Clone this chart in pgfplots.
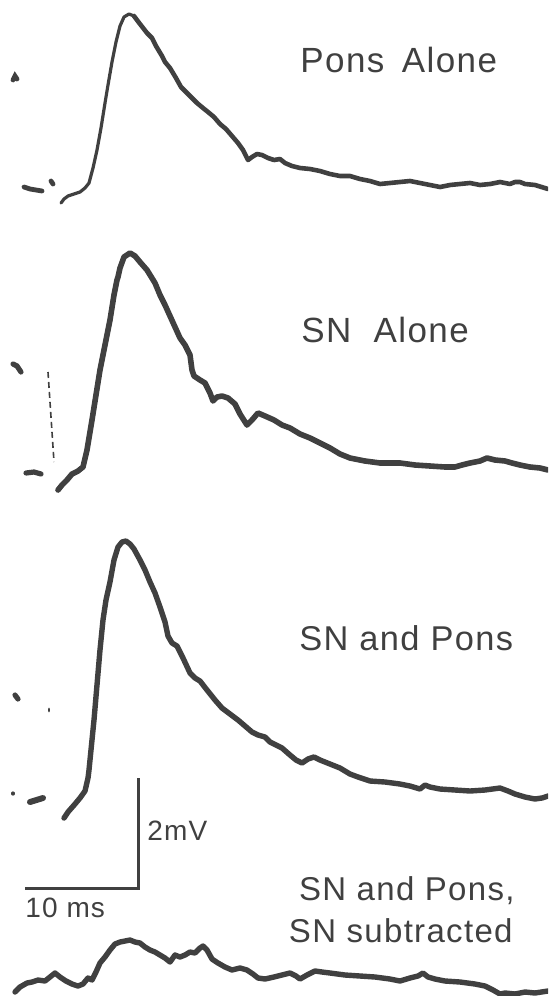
\documentclass[border=0pt]{standalone}
\usepackage{pgfplots}
\pgfplotsset{compat=1.18}
\usepackage{fontspec}
\setmainfont{Liberation Sans}
\newfontfamily\lbl[LetterSpace=4]{Liberation Sans}
\definecolor{ink}{HTML}{404040}
\definecolor{txt}{HTML}{404040}
\begin{document}
\begin{tikzpicture}
\begin{axis}[
  scale only axis, width=274pt, height=498pt,
  xmin=0, xmax=548, ymin=0, ymax=996, y dir=reverse,
  hide axis, clip=true,
]
% Trace 1: Pons Alone
\addplot[ink, line width=1.6pt, line join=round, line cap=round] coordinates {
(61,203)(64,199)(68,196)(74,194)(80,192)(85,188)(89,183)(93,168)(97,150)(101,128)(105,103)(108,85)(112,62)(116,42)(120,26)(124,17)(129,14)(134,16)};
\addplot[ink, line width=2.3pt, line join=round, line cap=round] coordinates {
(134,16)(140,24)(147,33)(152,38)(156,46)(162,56)(165,62)(170,68)(176,78)(181,87)(186,92)(192,98)(197,103)(203,108)(208,112)(214,117)(220,124)(226,129)(232,136)(238,143)(243,150)(248,160)(252,157)(257,154)(262,155)(268,158)(274,160)(280,159)(285,163)(292,166)(300,168)(310,169)(320,171)(330,174)(340,176)(350,176)(360,179)(370,181)(380,184)(390,183)(400,182)(410,181)(420,183)(430,185)(440,187)(450,185)(460,184)(470,183)(480,185)(490,184)(500,182)(510,184)(515,182)(520,182)(525,184)(535,185)(548,189)
};
\addplot[ink, line width=2.4pt, line cap=round] coordinates {(13,80)(15,76)(17,79)};
\addplot[ink, line width=2.4pt, line cap=round] coordinates {(24,187)(30,189)(36,190)(42,191)};
\addplot[ink, line width=2.4pt, line cap=round] coordinates {(51,181)(53,184)};
% Trace 2: SN Alone
\addplot[ink, line width=2.8pt, line join=round, line cap=round] coordinates {
(58,490)(62,485)(67,480)(72,474)(78,471)(83,467)(87,450)(92,420)(96,395)(100,370)(105,345)(110,320)(114,295)(117,280)(118,277)(120,268)(124,257)(130,253)(135,256)(140,262)(147,270)(155,283)(160,295)(165,305)(170,316)(175,327)(180,338)(185,345)(190,355)(192,370)(194,376)(200,380)(205,383)(210,393)(213,401)(217,397)(222,396)(228,398)(235,404)(240,414)(247,425)(252,420)(258,413)(265,416)(274,420)(282,425)(290,428)(300,434)(310,438)(320,443)(330,448)(340,454)(350,458)(365,461)(380,463)(400,463)(415,465)(430,466)(445,467)(455,467)(462,465)(470,463)(480,461)(487,458)(495,460)(505,461)(512,463)(520,465)(530,467)(540,468)(548,470)
};
\addplot[ink, line width=2.6pt, line cap=round] coordinates {(13,364)(17,366)(21,372)};
\addplot[ink, line width=0.8pt, dash pattern=on 3pt off 2pt] coordinates {(48,372)(54,462)};
\addplot[ink, line width=2.6pt, line cap=round] coordinates {(26,473)(34,472)(41,474)};
% Trace 3: SN and Pons
\addplot[ink, line width=2.7pt, line join=round, line cap=round] coordinates {
(64,818)(68,812)(75,804)(80,798)(85,791)(88,778)(89,770)(91,750)(94,720)(97,685)(100,650)(103,620)(106,600)(110,582)(114,560)(118,547)(122,542)(126,541)(130,544)(134,549)(140,560)(145,570)(150,582)(155,593)(160,607)(165,622)(168,636)(172,643)(177,646)(183,658)(190,673)(195,678)(200,681)(207,690)(215,700)(222,708)(230,714)(238,720)(245,726)(252,732)(258,735)(265,737)(270,742)(274,744)(282,748)(290,755)(296,760)(302,763)(308,759)(314,757)(320,760)(330,764)(340,768)(350,774)(358,777)(370,781)(385,782)(400,784)(410,786)(420,789)(425,785)(430,787)(440,789)(455,790)(470,791)(485,790)(500,788)(508,791)(515,794)(525,797)(535,799)(542,798)(548,796)
};
\addplot[ink, line width=2.6pt, line cap=round] coordinates {(15,695)(18,699)};
\addplot[ink, line width=1.4pt, line cap=round] coordinates {(49,709)(49,711)};
\addplot[ink, line width=1.6pt, line cap=round] coordinates {(13,793)(13,794)};
\addplot[ink, line width=3pt, line cap=round] coordinates {(30,802)(43,798)};
% Trace 4: SN and Pons, SN subtracted
\addplot[ink, line width=2.7pt, line join=round, line cap=round] coordinates {
(15,992)(20,987)(27,983)(32,982)(38,980)(45,981)(50,977)(55,973)(60,977)(66,981)(72,984)(78,986)(83,984)(88,978)(92,980)(96,972)(100,963)(105,957)(110,950)(115,944)(120,942)(125,941)(130,940)(135,942)(140,943)(145,947)(150,950)(155,952)(160,955)(165,958)(170,962)(175,955)(180,957)(185,955)(190,952)(195,953)(200,948)(203,946)(207,950)(212,959)(218,963)(225,967)(232,970)(240,968)(247,970)(253,974)(258,978)(265,979)(274,977)(282,975)(290,973)(296,976)(300,979)(307,975)(315,971)(322,972)(330,973)(345,975)(360,976)(375,977)(390,979)(400,981)(410,978)(418,976)(423,973)(428,977)(435,979)(445,981)(460,982)(475,984)(485,986)(493,990)(500,994)(505,993)(515,994)(525,992)(535,993)(548,991)
};
% Scale bar
\addplot[ink, line width=1.5pt] coordinates {(25,888)(138,888)(138,778)};
% Labels
\node[anchor=base west, text=txt, font=\lbl\fontsize{17.5}{20}\selectfont, inner sep=0pt] at (axis cs:300,72) {Pons\hspace{0.5em}Alone};
\node[anchor=base west, text=txt, font=\lbl\fontsize{17.5}{20}\selectfont, inner sep=0pt] at (axis cs:301,342) {SN\ \ Alone};
\node[anchor=base west, text=txt, font=\lbl\fontsize{17.2}{20}\selectfont, inner sep=0pt] at (axis cs:299,650) {SN\ and\ Pons};
\node[anchor=base east, text=txt, font=\lbl\fontsize{16.5}{20}\selectfont, inner sep=0pt] at (axis cs:515,900) {SN\ and\ Pons,};
\node[anchor=base east, text=txt, font=\lbl\fontsize{16.5}{20}\selectfont, inner sep=0pt] at (axis cs:513,942) {SN\ subtracted};
\node[anchor=base west, text=txt, font=\lbl\fontsize{14}{16}\selectfont, inner sep=0pt] at (axis cs:147,840) {2mV};
\node[anchor=base west, text=txt, font=\lbl\fontsize{14}{16}\selectfont, inner sep=0pt] at (axis cs:25,917) {10 ms};
\end{axis}
\pgfresetboundingbox
\path[use as bounding box] (current axis.south west) rectangle (current axis.north east);
\end{tikzpicture}
\end{document}
